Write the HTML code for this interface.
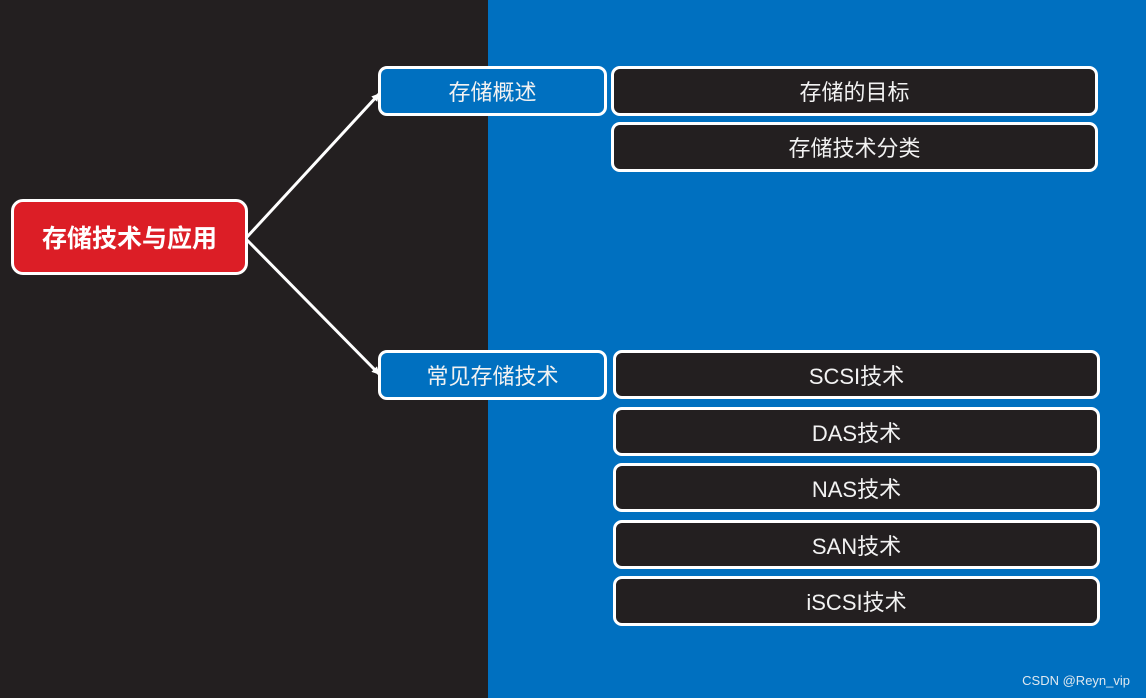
<!DOCTYPE html>
<html><head><meta charset="utf-8"><style>
body{margin:0;width:1146px;height:698px;position:relative;overflow:hidden;background:#0070c0;font-family:"Liberation Sans","Noto Sans CJK SC",sans-serif;}
.l{position:absolute;left:0;top:0;width:488px;height:698px;background:#231f20;}
.b{position:absolute;box-sizing:border-box;border:3px solid #fff;border-radius:9px;color:#f2f2f2;display:flex;align-items:center;justify-content:center;font-size:22px;}
.k{background:#231f20;}
.u{background:#0070c0;}
.wm{position:absolute;right:16px;bottom:10px;color:#dfe8f0;font-size:13px;}
</style></head><body>
<div class="l"></div>
<svg style="position:absolute;left:0;top:0" width="1146" height="698">
<defs><marker id="a" markerWidth="8" markerHeight="8" refX="7" refY="4" orient="auto" markerUnits="userSpaceOnUse"><path d="M0,0 L8,4 L0,8 z" fill="#fff"/></marker></defs>
<line x1="247" y1="237" x2="379" y2="94" stroke="#fff" stroke-width="3" marker-end="url(#a)"/>
<line x1="247" y1="240" x2="379" y2="374" stroke="#fff" stroke-width="3" marker-end="url(#a)"/>
</svg>
<div class="b" style="left:11px;top:199px;width:237px;height:76px;background:#dc1e26;border-radius:12px;font-weight:bold;font-size:25px;color:#fff">存储技术与应用</div>
<div class="b u" style="left:378px;top:66px;width:229px;height:50px">存储概述</div>
<div class="b u" style="left:378px;top:350px;width:229px;height:50px">常见存储技术</div>
<div class="b k" style="left:611px;top:66px;width:487px;height:50px">存储的目标</div>
<div class="b k" style="left:611px;top:122px;width:487px;height:50px">存储技术分类</div>
<div class="b k" style="left:613px;top:350px;width:487px;height:49px">SCSI技术</div>
<div class="b k" style="left:613px;top:407px;width:487px;height:49px">DAS技术</div>
<div class="b k" style="left:613px;top:463px;width:487px;height:49px">NAS技术</div>
<div class="b k" style="left:613px;top:520px;width:487px;height:49px">SAN技术</div>
<div class="b k" style="left:613px;top:576px;width:487px;height:50px">iSCSI技术</div>
<div class="wm">CSDN @Reyn_vip</div>
</body></html>
